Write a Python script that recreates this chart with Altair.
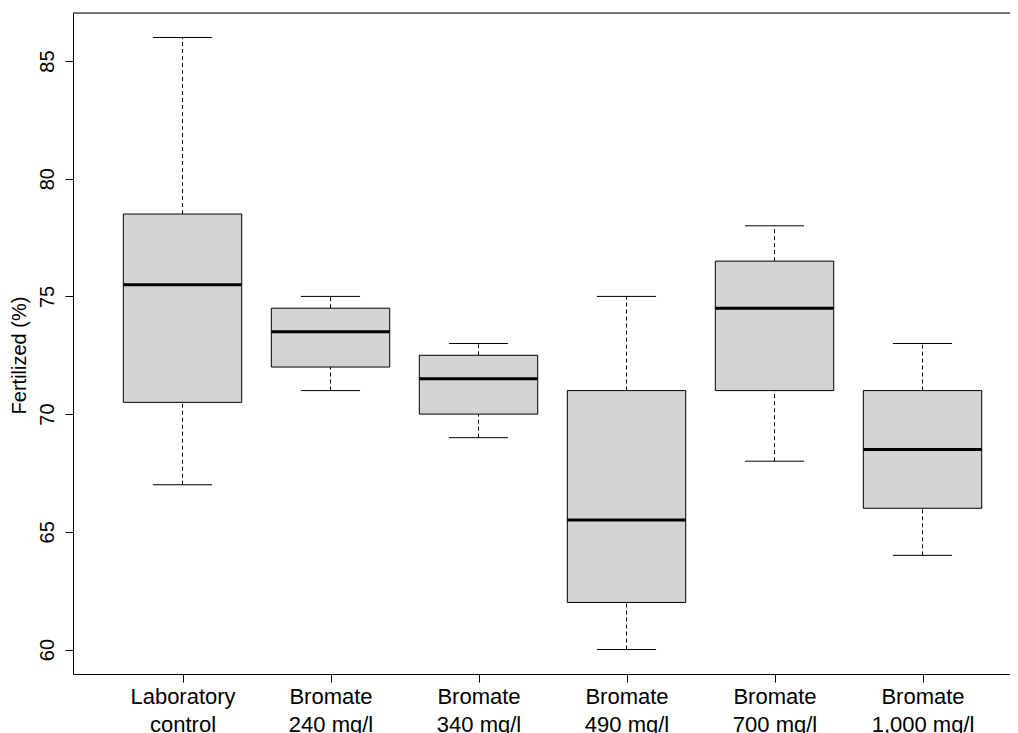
import altair as alt
import pandas as pd

groups_line1 = ["Laboratory", "Bromate", "Bromate", "Bromate", "Bromate", "Bromate"]
groups_line2 = ["control", "240 mg/l", "340 mg/l", "490 mg/l", "700 mg/l", "1,000 mg/l"]
positions = [1, 2, 3, 4, 5, 6]
mins = [67, 71, 69, 60, 68, 64]
q1s = [70.5, 72, 70, 62, 71, 66]
medians = [75.5, 73.5, 71.5, 65.5, 74.5, 68.5]
q3s = [78.5, 74.5, 72.5, 71, 76.5, 71]
maxs = [86, 75, 73, 75, 78, 73]
y_ticks = [60, 65, 70, 75, 80, 85]

df = pd.DataFrame({
    "pos": positions, "lo": mins, "q1": q1s, "med": medians, "q3": q3s, "hi": maxs,
})

W = 937
H = 661
YDOM = [58.96, 87.04]
XDOM = [0.26, 0.26 + W / 148.0]

label_arr = "[" + ",".join(
    "['%s','%s']" % (a, b) for a, b in zip(groups_line1, groups_line2)
) + "]"

xs = alt.Scale(domain=XDOM, nice=False, zero=False)
ys = alt.Scale(domain=YDOM, nice=False, zero=False)

base = alt.Chart(df).transform_calculate(
    bl="datum.pos - 0.4", br="datum.pos + 0.4",
    cl="datum.pos - 0.2", cr="datum.pos + 0.2",
)

xaxis = alt.Axis(
    values=positions, labelExpr=label_arr + "[datum.value - 1]",
    title=None, grid=False, tickSize=8, tickColor="black", domainColor="black",
    labelFontSize=22, labelFont="Liberation Sans", labelColor="black",
    labelPadding=4, labelLineHeight=28, labelBaseline="top", labelFlush=False,
    labelOverlap=False,
)
yaxis = alt.Axis(
    values=y_ticks, title="Fertilized (%)", grid=False, tickSize=8,
    tickColor="black", domainColor="black",
    labelFontSize=20, labelFont="Liberation Sans", labelColor="black",
    labelAngle=270, labelAlign="center", labelBaseline="alphabetic",
    labelPadding=12, labelFlush=False,
    titleFontSize=20, titleFont="Liberation Sans", titleFontWeight="normal",
    titleColor="black", titleAngle=270, titleAlign="center",
    titleBaseline="alphabetic", titleX=-48, titleY=342,
)

whisk_up = base.mark_rule(color="black", strokeDash=[4, 3], strokeWidth=1).encode(
    x=alt.X("pos:Q", scale=xs, axis=xaxis),
    y=alt.Y("q3:Q", scale=ys, axis=yaxis),
    y2="hi:Q",
)
whisk_dn = base.mark_rule(color="black", strokeDash=[4, 3], strokeWidth=1).encode(
    x=alt.X("pos:Q", scale=xs), y=alt.Y("lo:Q", scale=ys), y2="q1:Q",
)
cap_hi = base.mark_rule(color="black", strokeWidth=1).encode(
    x=alt.X("cl:Q", scale=xs), x2="cr:Q", y=alt.Y("hi:Q", scale=ys),
)
cap_lo = base.mark_rule(color="black", strokeWidth=1).encode(
    x=alt.X("cl:Q", scale=xs), x2="cr:Q", y=alt.Y("lo:Q", scale=ys),
)
box = base.mark_rect(fill="#D3D3D3", stroke="black", strokeWidth=1).encode(
    x=alt.X("bl:Q", scale=xs), x2="br:Q", y=alt.Y("q1:Q", scale=ys), y2="q3:Q",
)
med = base.mark_rule(color="black", strokeWidth=3).encode(
    x=alt.X("bl:Q", scale=xs), x2="br:Q", y=alt.Y("med:Q", scale=ys),
)
top = alt.Chart(df.head(1)).mark_rule(color="black", strokeWidth=1).encode(
    x=alt.value(0), x2=alt.value(W), y=alt.value(0),
)

chart = alt.layer(whisk_up, whisk_dn, cap_hi, cap_lo, box, med, top).properties(
    width=W, height=H,
    autosize=alt.AutoSizeParams(type="none"),
    padding={"left": 65, "top": 5, "right": 0, "bottom": 60},
).configure_view(strokeWidth=0, stroke="transparent").configure(background="white")

chart.save("out.html", embed_options={"renderer": "svg", "actions": False})
